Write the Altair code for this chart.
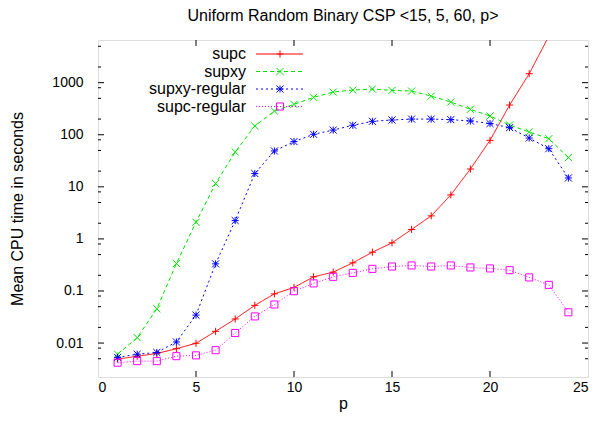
import altair as alt
import pandas as pd

FONT = "Liberation Sans"

p = list(range(1, 25))
supc = [0.0049, 0.0056, 0.0063, 0.0078, 0.0099, 0.0168, 0.029, 0.053, 0.088, 0.117,
        0.187, 0.23, 0.347, 0.556, 0.84, 1.52, 2.77, 7.0, 22, 78, 372, 1487, 7800]
supxy = [0.0061, 0.0127, 0.0455, 0.337, 2.09, 11.6, 46.7, 147, 285, 384, 523, 661,
         722, 754, 711, 690, 553, 425, 308, 229, 154, 113, 84, 36.5]
supxy_regular = [0.0053, 0.0061, 0.0066, 0.0105, 0.0344, 0.332, 2.25, 18, 48.8, 73.8,
                 102, 123, 152, 181, 192, 200, 200, 195, 184, 164, 137, 86.5, 54, 14.8]
supc_regular = [0.0042, 0.0045, 0.0045, 0.0056, 0.0058, 0.0073, 0.0156, 0.0325, 0.055,
                0.099, 0.14, 0.187, 0.223, 0.266, 0.295, 0.309, 0.295, 0.309, 0.283,
                0.271, 0.251, 0.182, 0.131, 0.039]

series_names = ["supc", "supxy", "supxy-regular", "supc-regular"]
series_values = [supc, supxy, supxy_regular, supc_regular]

x_ticks = [0, 5, 10, 15, 20, 25]
y_ticks = [0.01, 0.1, 1, 10, 100, 1000]
y_minor = [0.005, 0.008, 0.02, 0.05, 0.08, 0.2, 0.5, 0.8, 2, 5, 8,
           20, 50, 80, 200, 500, 800, 2000, 5000]

colors = ["#ff0000", "#00e000", "#0000ff", "#ff00ff"]
dashes = [[1, 0], [4, 3], [2, 3], [1, 2]]
PLUS = "M-1,0L1,0M0,-1L0,1"
CROSS = "M-1,-1L1,1M-1,1L1,-1"
STAR = "M-1,0L1,0M0,-1L0,1M-1,-1L1,1M-1,1L1,-1"
shapes = [PLUS, CROSS, STAR, "square"]

rows = []
for name, vals in zip(series_names, series_values):
    for x, v in zip(p, vals):
        rows.append({"p": x, "t": v, "series": name})
df = pd.DataFrame(rows)

W, H = 490, 337
xs = alt.Scale(domain=[0, 25], nice=False, zero=False)
ys = alt.Scale(type="log", domain=[0.00223, 6600], nice=False)

x_axis = alt.Axis(values=x_ticks, title="p", grid=False, ticks=False, tickSize=0,
                  domain=False, labelFont=FONT, labelFontSize=14, labelPadding=3,
                  titleFont=FONT, titleFontSize=16, titleFontWeight="normal",
                  titlePadding=1, labelColor="#000", titleColor="#000")
y_axis = alt.Axis(values=y_ticks, title="Mean CPU time in seconds", grid=False,
                  ticks=False, tickSize=0, domain=False, format="~g",
                  labelFont=FONT, labelFontSize=14, labelPadding=15,
                  titleFont=FONT, titleFontSize=16, titleFontWeight="normal",
                  titlePadding=26, labelColor="#000", titleColor="#000")


def X(field):
    return alt.X(field, scale=xs, axis=x_axis)


def Y(field):
    return alt.Y(field, scale=ys, axis=y_axis)


layers = []
for name, col, dash, shp in zip(series_names, colors, dashes, shapes):
    b = alt.Chart(df).transform_filter(alt.datum.series == name)
    layers.append(b.mark_line(color=col, strokeDash=dash, strokeWidth=1, clip=True)
                  .encode(x=X("p:Q"), y=Y("t:Q")))
    layers.append(b.mark_point(shape=shp, color=col, size=50, filled=False,
                               strokeWidth=1, opacity=1, clip=True)
                  .encode(x=X("p:Q"), y=Y("t:Q")))

# tick marks (inward, mirrored like gnuplot)
ymaj = pd.DataFrame({"t": y_ticks})
ymin = pd.DataFrame({"t": y_minor})
xmaj = pd.DataFrame({"p": x_ticks[1:-1]})
for d, ln in [(ymaj, 6), (ymin, 3)]:
    layers.append(alt.Chart(d).mark_rule(color="black", strokeWidth=1).encode(
        y=Y("t:Q"), x=alt.value(0), x2=alt.value(ln)))
    layers.append(alt.Chart(d).mark_rule(color="black", strokeWidth=1).encode(
        y=Y("t:Q"), x=alt.value(W - ln), x2=alt.value(W)))
layers.append(alt.Chart(xmaj).mark_rule(color="black", strokeWidth=1).encode(
    x=X("p:Q"), y=alt.value(H), y2=alt.value(H - 6)))
layers.append(alt.Chart(xmaj).mark_rule(color="black", strokeWidth=1).encode(
    x=X("p:Q"), y=alt.value(0), y2=alt.value(6)))

# key (gnuplot-style: label left, sample right)
for i, (name, col, dash, shp) in enumerate(zip(series_names, colors, dashes, shapes)):
    yr = 14 + 17.5 * i
    kd = pd.DataFrame({"label": [name]})
    layers.append(alt.Chart(kd).mark_text(align="right", baseline="middle", font=FONT,
                                          fontSize=16, color="#000")
                  .encode(text="label:N", x=alt.value(148), y=alt.value(yr)))
    layers.append(alt.Chart(kd).mark_rule(color=col, strokeDash=dash, strokeWidth=1)
                  .encode(x=alt.value(158), x2=alt.value(205), y=alt.value(yr)))
    layers.append(alt.Chart(kd).mark_point(shape=shp, color=col, size=50, filled=False,
                                           strokeWidth=1, opacity=1)
                  .encode(x=alt.value(182), y=alt.value(yr)))

chart = alt.layer(*layers).properties(
    width=W, height=H,
    autosize=alt.AutoSizeParams(type="none"),
    padding={"left": 90, "top": 32, "right": 2, "bottom": 38},
    title=alt.Title("Uniform Random Binary CSP <15, 5, 60, p>", font=FONT, fontSize=16,
                    fontWeight="normal", anchor="middle", offset=16, color="#000"),
).configure_view(stroke="black", strokeWidth=1).configure(background="white")

chart.save("out.html", embed_options={"renderer": "svg", "actions": False})
